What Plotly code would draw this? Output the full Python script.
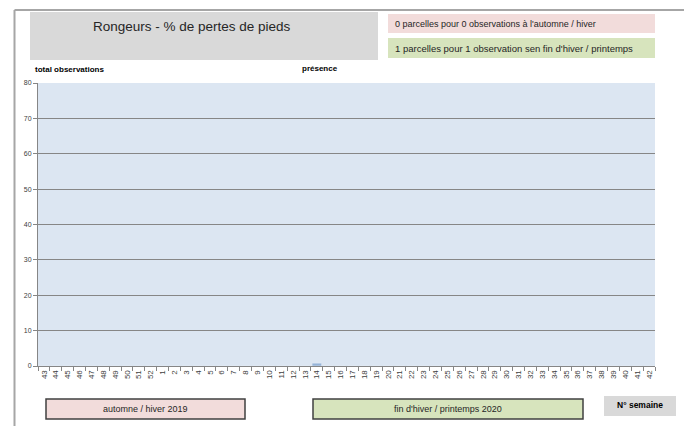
import plotly.graph_objects as go

weeks = [str(w) for w in list(range(43, 53)) + list(range(1, 43))]
values = [0] * len(weeks)
values[weeks.index("14")] = 0.8

y_ticks = list(range(0, 81, 10))

OFF = 8  # page body margin
W, H = 692 - OFF, 426 - OFF
L, R, T, B = 38 - OFF, 655 - OFF, 83 - OFF, 366 - OFF

def px(x):
    return (x - OFF - L) / (R - L)

def py(y):
    return (B - (y - OFF)) / (B - T)

FONT = "Liberation Sans Narrow, Arial Narrow, Liberation Sans, sans-serif"

fig = go.Figure()
fig.add_trace(go.Bar(x=weeks, y=values, marker_color="#95b3d7", width=0.8,
                     hoverinfo="x+y"))

shapes = []
annotations = []

def box(x0, y0, x1, y1, fill, line=None, lw=1):
    shapes.append(dict(type="rect", xref="paper", yref="paper",
                       x0=px(x0), x1=px(x1), y0=py(y1), y1=py(y0),
                       fillcolor=fill,
                       line=dict(color=line if line else fill, width=lw if line else 0),
                       layer="below"))

def text(x, y, s, size, color="#262626", xanchor="center", bold=False):
    annotations.append(dict(xref="paper", yref="paper", x=px(x), y=py(y),
                            text=("<b>%s</b>" % s) if bold else s, showarrow=False,
                            xanchor=xanchor, yanchor="middle",
                            font=dict(family=FONT, size=size, color=color)))

# outer frame (three visible sides)
for (x0, y0, x1, y1) in [(14.5, 10, 14.5, 430), (14.5, 10, 686.5, 10), (686.5, 10, 686.5, 430)]:
    shapes.append(dict(type="line", xref="paper", yref="paper",
                       x0=px(x0), x1=px(x1), y0=py(y0), y1=py(y1),
                       line=dict(color="#a6a6a6", width=2), layer="above"))

box(30, 12, 378, 60, "#d9d9d9")
text(192, 27, "Rongeurs - % de pertes de pieds", 13.5)
box(388, 14, 655, 33, "#f2dcdb")
text(393, 23.5, "0 parcelles pour 0 observations à l'automne / hiver", 9, xanchor="left")
box(388, 38, 655, 58, "#d7e4bd")
text(393, 48, "1 parcelles pour 1 observation sen fin d'hiver / printemps", 9.5, xanchor="left")
text(33, 69, "total observations", 8, color="#000000", xanchor="left", bold=True)
text(300, 68, "présence", 8, color="#000000", xanchor="left", bold=True)

box(46, 399, 245, 419, "#f2dcdb", line="#404040", lw=1.5)
text(145, 409, "automne / hiver 2019", 9)
box(313, 399, 583, 419, "#d7e4bd", line="#404040", lw=1.5)
text(448, 409, "fin d'hiver / printemps 2020", 9)
box(604, 396, 676, 416, "#d9d9d9")
text(640, 405, "N° semaine", 8.5, color="#000000", bold=True)

fig.update_layout(
    width=W, height=H,
    margin=dict(l=L, r=W - R, t=T, b=H - B),
    paper_bgcolor="white",
    plot_bgcolor="#dce6f2",
    showlegend=False,
    bargap=0.2,
    shapes=shapes,
    annotations=annotations,
    font=dict(family=FONT, color="#404040"),
    xaxis=dict(type="category", categoryorder="array", categoryarray=weeks,
               tickmode="array", tickvals=weeks, ticktext=weeks,
               tickangle=-90, tickfont=dict(size=8, color="#404040"),
               ticks="outside", ticklen=4, tickcolor="#868686",
               tickson="boundaries",
               showline=True, linecolor="#868686", linewidth=1,
               showgrid=False, zeroline=False, fixedrange=True),
    yaxis=dict(range=[0, 80], tickmode="array", tickvals=y_ticks,
               tickfont=dict(size=7, color="#404040"),
               ticks="outside", ticklen=4, tickcolor="#868686",
               showline=True, linecolor="#868686", linewidth=1,
               showgrid=True, gridcolor="#868686", gridwidth=1,
               zeroline=False, fixedrange=True),
)

fig.write_html("out.html")
